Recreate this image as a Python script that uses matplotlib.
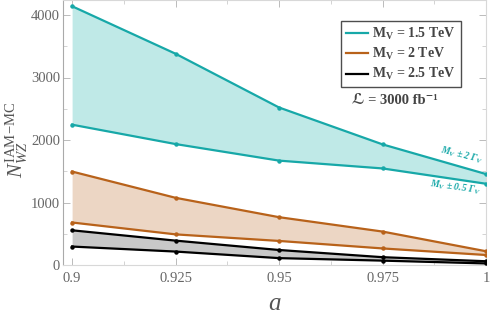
import matplotlib
matplotlib.use("Agg")
import matplotlib.pyplot as plt
from matplotlib.ticker import FixedLocator, MultipleLocator
from matplotlib.lines import Line2D

a_vals = [0.9, 0.925, 0.95, 0.975, 1.0]
cyan_upper = [4140, 3380, 2520, 1930, 1455]
cyan_lower = [2245, 1935, 1670, 1545, 1300]
orange_upper = [1495, 1075, 765, 535, 220]
orange_lower = [680, 490, 385, 265, 160]
black_upper = [555, 390, 240, 125, 60]
black_lower = [295, 215, 110, 70, 25]

labels = [r"$\mathbf{M_V}$ = 1.5 TeV", r"$\mathbf{M_V}$ = 2 TeV", r"$\mathbf{M_V}$ = 2.5 TeV"]
xtick_vals = [0.9, 0.925, 0.95, 0.975, 1.0]
xtick_labels = ["0.9", "0.925", "0.95", "0.975", "1"]
ytick_vals = [0, 1000, 2000, 3000, 4000]

plt.rcParams['font.family'] = ['Liberation Serif', 'DejaVu Serif', 'DejaVu Sans']
plt.rcParams['mathtext.fontset'] = 'custom'
plt.rcParams['mathtext.rm'] = 'Liberation Serif'
plt.rcParams['mathtext.it'] = 'Liberation Serif:italic'
plt.rcParams['mathtext.bf'] = 'Liberation Serif:bold'
plt.rcParams['mathtext.bfit'] = 'Liberation Serif:bold:italic'

fig = plt.figure(figsize=(4.94, 3.2), dpi=100)
ax = fig.add_axes([63/494, 55/320, (486-63)/494, 265/320])

cyan = '#17a8a8'
orange = '#b8621a'
black = '#000000'
fills = ['#bfe9e7', '#ecd6c4', '#c8c8c8']

series = [(cyan_upper, cyan_lower, cyan), (orange_upper, orange_lower, orange),
          (black_upper, black_lower, black)]
handles = []
for (up, lo, col), fc, lab in zip(series, fills, labels):
    ax.fill_between(a_vals, lo, up, color=fc, lw=0, zorder=1)
    ax.plot(a_vals, up, color=col, lw=1.6, marker='o', ms=2.2, zorder=3)
    ax.plot(a_vals, lo, color=col, lw=1.6, marker='o', ms=2.2, zorder=3)
    handles.append(Line2D([], [], color=col, lw=1.6, label=lab))

ax.set_xlim(0.8978, 1.0)
ax.set_ylim(0, 4240)

for s in ax.spines.values():
    s.set_color('#d8d8d8')
    s.set_linewidth(0.8)
ax.spines['left'].set_color('#aaaaaa')

ax.xaxis.set_major_locator(FixedLocator(xtick_vals))
ax.set_xticklabels(xtick_labels)
ax.xaxis.set_minor_locator(MultipleLocator(0.0125))
ax.yaxis.set_major_locator(FixedLocator(ytick_vals))
ax.yaxis.set_minor_locator(MultipleLocator(500))
ax.tick_params(axis='both', which='major', direction='in', length=5, width=0.7,
               color='#bbbbbb', labelcolor='#666666', labelsize=10.5,
               top=True, right=True)
ax.tick_params(axis='both', which='minor', direction='in', length=3, width=0.6,
               color='#cccccc', top=True, right=True)
ax.tick_params(axis='x', pad=5)
ax.tick_params(axis='y', pad=2)

ax.set_xlabel(r"$a$", fontsize=18, color='#555555', labelpad=6)
fig.text(17/494, 1 - 140/320, r"$N_{WZ}^{\mathrm{IAM\!-\!MC}}$", fontsize=15, color='#555555',
         rotation=90, ha='center', va='center')

leg = ax.legend(handles=handles, loc='upper left', bbox_to_anchor=((341-63)/423, 1 - 21/265),
                borderaxespad=0, frameon=True, fancybox=False, edgecolor='#222222',
                handlelength=1.6, handletextpad=0.3, borderpad=0.35, labelspacing=0.3,
                prop={'weight': 'bold', 'size': 10})
leg.get_frame().set_linewidth(1.0)
for t in leg.get_texts():
    t.set_color('#444444')

fig.text(395/494, 1 - 101/320, "ℒ = 3000 fb⁻¹",
         ha='center', va='center', fontsize=10.5, fontweight='bold', color='#444444',
         family=['Liberation Serif', 'DejaVu Serif', 'DejaVu Sans'])

ax.text(0.9942, 1760, r"$\mathbfit{M_V}\ \mathbf{\pm}\ \mathbfit{2\ \Gamma_V}$", fontsize=7,
        color=cyan, rotation=-14, ha='center', va='center')
ax.text(0.9925, 1240, r"$\mathbfit{M_V}\ \mathbf{\pm}\ \mathbfit{0.5\ \Gamma_V}$", fontsize=7,
        color=cyan, rotation=-8, ha='center', va='center')

fig.savefig("out.png", dpi=100)
